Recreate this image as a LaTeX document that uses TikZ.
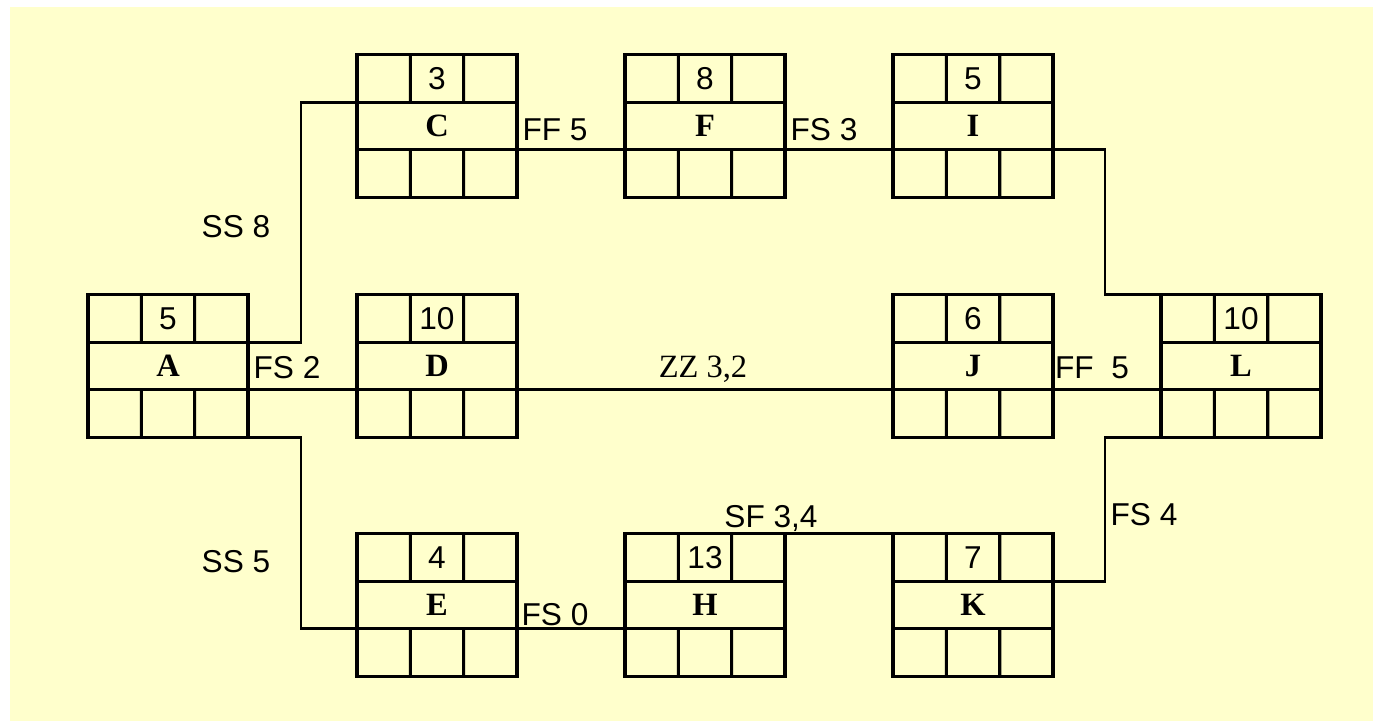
\documentclass[tikz,border=0pt]{standalone}
\usepackage{fontspec}
\setmainfont{Liberation Sans}
\newfontfamily\tnr{Liberation Serif}
\usepackage{tikz}
\usetikzlibrary{calc}
\definecolor{bgyellow}{RGB}{255,255,204}
\tikzset{
  actbox/.style={draw,line width=2pt,minimum width=3.2cm,minimum height=2.86cm,inner sep=0pt,outer sep=0pt},
  cell/.style={line width=1.8pt},
  link/.style={line width=1.6pt},
  dur/.style={font=\fontsize{18}{21}\selectfont,inner sep=0pt},
  act/.style={font=\tnr\bfseries\fontsize{18.5}{21}\selectfont,inner sep=0pt},
  lag/.style={font=\fontsize{18}{21}\selectfont,inner sep=0pt}
}
\newcommand{\actbox}[4]{%
  \node[actbox] (#1) at (#2) {};
  \coordinate (#1-wt) at ($(#1.north west)!1/3!(#1.south west)$);
  \coordinate (#1-wb) at ($(#1.north west)!2/3!(#1.south west)$);
  \coordinate (#1-et) at ($(#1.north east)!1/3!(#1.south east)$);
  \coordinate (#1-eb) at ($(#1.north east)!2/3!(#1.south east)$);
  \draw[cell] (#1-wt)--(#1-et);
  \draw[cell] (#1-wb)--(#1-eb);
  \draw[cell] ($(#1.north west)!1/3!(#1.north east)$)--($(#1-wt)!1/3!(#1-et)$);
  \draw[cell] ($(#1.north west)!2/3!(#1.north east)$)--($(#1-wt)!2/3!(#1-et)$);
  \draw[cell] ($(#1-wb)!1/3!(#1-eb)$)--($(#1.south west)!1/3!(#1.south east)$);
  \draw[cell] ($(#1-wb)!2/3!(#1-eb)$)--($(#1.south west)!2/3!(#1.south east)$);
  \node[dur] (#1-d) at ($(#1.north)!1/6!(#1.south)$) {#3};
  \node[act] (#1-l) at (#1.center) {#4};
}

\begin{document}
\begin{tikzpicture}[x=0.02cm,y=-0.02cm]
  \useasboundingbox (0,0) rectangle (1373,721);
  \fill[white] (0,0) rectangle (1373,721);
  \fill[bgyellow] (10,7) rectangle (1373,721);

  \actbox{A}{168,366}{5}{A}
  \actbox{C}{437,126}{3}{C}
  \actbox{D}{437,366}{10}{D}
  \actbox{E}{437,605}{4}{E}
  \actbox{F}{705,126}{8}{F}
  \actbox{H}{705,605}{13}{H}
  \actbox{I}{973,126}{5}{I}
  \actbox{J}{973,366}{6}{J}
  \actbox{K}{973,605}{7}{K}
  \actbox{L}{1241,366}{10}{L}

  \draw[link] (A-et) -- ++(53,0) |- (C-wt);
  \draw[link] (A-eb) -- (D-wb);
  \draw[link] (A.south east) -- ++(53,0) |- (E-wb);
  \draw[link] (C-eb) -- (F-wb);
  \draw[link] (F-eb) -- (I-wb);
  \draw[link] (I-eb) -- ++(52,0) |- (L.north west);
  \draw[link] (D-eb) -- (J-wb);
  \draw[link] (J-eb) -- (L-wb);
  \draw[link] (E-eb) -- (H-wb);
  \draw[link] (H.north east) -- (K.north west);
  \draw[link] (K-et) -- ++(52,0) |- (L.south west);

  \node[lag] (ss8) at (236,227) {SS 8};
  \node[lag] (ff5) at (555,130) {FF 5};
  \node[lag] (fs3) at (824,130) {FS 3};
  \node[lag] (fs2) at (287,368) {FS 2};
  \node[lag,font=\tnr\fontsize{18.5}{21}\selectfont] (zz32) at (703,369) {ZZ 3,2};
  \node[lag] (ff5b) at (1092,368) {FF\ \ 5};
  \node[lag] (ss5) at (236,562) {SS 5};
  \node[lag] (fs0) at (555,615) {FS 0};
  \node[lag] (sf34) at (771,518) {SF 3,4};
  \node[lag] (fs4) at (1144,515) {FS 4};
\end{tikzpicture}
\end{document}
